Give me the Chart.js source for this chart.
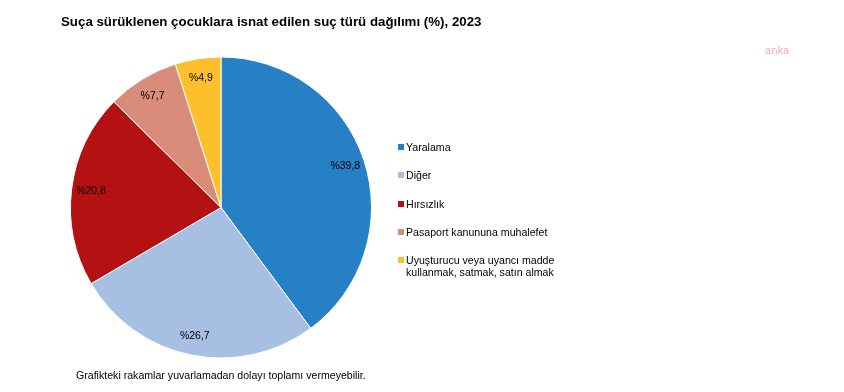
<!DOCTYPE html>
<html>
<head>
<meta charset="utf-8">
<script src="https://cdn.jsdelivr.net/npm/chart.js@4"></script>
<style>
  html, body { margin: 0; padding: 0; background: #fff; }
  #wrap { position: relative; width: 844px; height: 392px; font-family: "Liberation Sans", Arial, sans-serif; }
  #wrap canvas { position: absolute; left: 0; top: 0; }
  .title { position: absolute; left: 61px; top: 14px; font-size: 13.3px; font-weight: bold; color: #000; white-space: nowrap; }
  .note { position: absolute; left: 76px; top: 369px; font-size: 10.6px; color: #000; white-space: nowrap; }
  .wm { position: absolute; left: 765px; top: 45px; font-family: "DejaVu Sans", sans-serif; font-size: 10px; color: #f4a9b6; white-space: nowrap; }
  #legend { position: absolute; left: 398px; top: 0; font-size: 10.6px; color: #000; }
  .li { position: absolute; left: 0; white-space: nowrap; line-height: 12px; }
  .li .box { position: absolute; left: 0; top: 3px; width: 6px; height: 6px; }
  .li .txt { position: absolute; left: 8px; top: 0; }
</style>
</head>
<body>
<div id="wrap">
  <canvas id="c" width="844" height="392"></canvas>
  <div class="title">Suça sürüklenen çocuklara isnat edilen suç türü dağılımı (%), 2023</div>
  <div class="wm">anka</div>
  <div id="legend"></div>
  <div class="note">Grafikteki rakamlar yuvarlamadan dolayı toplamı vermeyebilir.</div>
</div>
<script>
const categories = [
  "Yaralama",
  "Diğer",
  "Hırsızlık",
  "Pasaport kanununa muhalefet",
  ["Uyuşturucu veya uyancı madde", "kullanmak, satmak, satın almak"]
];
const values = [39.8, 26.7, 20.8, 7.7, 4.9];
const valueLabels = ["%39,8", "%26,7", "%20,8", "%7,7", "%4,9"];
const colors = ["#2580c5", "#a6bfe3", "#b31112", "#d98c79", "#fdbf2b"];

// HTML legend built from the arrays
const legendTops = [141, 169, 198, 226, 254];
const legend = document.getElementById('legend');
categories.forEach((cat, i) => {
  const item = document.createElement('div');
  item.className = 'li';
  item.style.top = legendTops[i] + 'px';
  const box = document.createElement('span');
  box.className = 'box';
  box.style.background = colors[i];
  const txt = document.createElement('span');
  txt.className = 'txt';
  txt.innerHTML = Array.isArray(cat) ? cat.join('<br>') : cat;
  item.appendChild(box);
  item.appendChild(txt);
  legend.appendChild(item);
});

const labelPlugin = {
  id: 'sliceLabels',
  afterDatasetsDraw(chart) {
    const ctx = chart.ctx;
    const meta = chart.getDatasetMeta(0);
    ctx.save();
    ctx.font = '10.5px "Liberation Sans", Arial, sans-serif';
    ctx.fillStyle = '#000';
    ctx.textAlign = 'center';
    ctx.textBaseline = 'middle';
    meta.data.forEach((arc, i) => {
      const p = arc.getProps(['x', 'y', 'startAngle', 'endAngle', 'outerRadius'], true);
      const mid = (p.startAngle + p.endAngle) / 2;
      const r = p.outerRadius * 0.87;
      ctx.fillText(valueLabels[i], p.x + Math.cos(mid) * r, p.y + Math.sin(mid) * r);
    });
    ctx.restore();
  }
};

new Chart(document.getElementById('c'), {
  type: 'pie',
  data: {
    labels: categories.map(c => Array.isArray(c) ? c.join(' ') : c),
    datasets: [{
      data: values,
      backgroundColor: colors,
      borderColor: '#ffffff',
      borderWidth: 1
    }]
  },
  options: {
    responsive: false,
    animation: false,
    layout: { padding: { left: 70, right: 472, top: 56, bottom: 33 } },
    plugins: {
      legend: { display: false },
      tooltip: { enabled: false },
      title: { display: false }
    }
  },
  plugins: [labelPlugin]
});
</script>
</body>
</html>
